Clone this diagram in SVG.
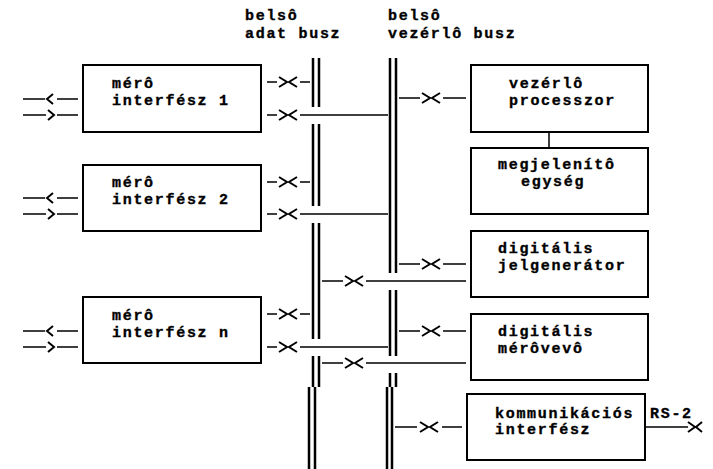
<svg xmlns="http://www.w3.org/2000/svg" xmlns:xlink="http://www.w3.org/1999/xlink" width="713" height="469" viewBox="0 0 713 469">
<style>
.t{font-family:"Liberation Mono","DejaVu Sans Mono",monospace;font-size:15px;font-weight:bold;letter-spacing:1.7px;fill:#000;stroke:#000;stroke-width:0.35}
.box{fill:#fff;stroke:#000;stroke-width:2}
.ln{fill:none;stroke:#000;stroke-width:1.5}
.bus{fill:none;stroke:#000;stroke-width:2.5}
.ch{fill:none;stroke:#000;stroke-width:2}
</style>
<defs>
<g id="xc"><path class="ch" d="M-9,-5 L-1,0 L-9,5 M9,-5 L1,0 L9,5"/></g>
<g id="lt"><path class="ch" d="M6,-5 L0,0 L6,5"/></g>
<g id="gt"><path class="ch" d="M0,-5 L6,0 L0,5"/></g>
</defs>
<rect width="713" height="469" fill="#fff"/>

<g id="label-adat-busz">
<text class="t" x="245" y="20">belsô</text>
<text class="t" x="245" y="38">adat busz</text>
</g>
<g id="label-vezerlo-busz">
<text class="t" x="388" y="20">belsô</text>
<text class="t" x="388" y="38">vezérlô busz</text>
</g>

<g id="connectors">
<!-- data bus -->
<path class="bus" d="M313,58V107 M319,58V107 M313,124V206 M319,124V206 M313,223V339 M319,223V339 M313,356V387 M319,356V387 M309,387V469 M315,387V469"/>
<!-- control bus -->
<path class="bus" d="M390,58V273 M396,58V273 M390,290V356 M396,290V356 M390,373V387 M396,373V387 M387,387V469 M392,387V469"/>

<!-- interface 1 -->
<path class="ln" d="M23,99H45 M57,99H78 M23,115H46 M57,115H78"/>
<use xlink:href="#lt" x="47" y="99"/><use xlink:href="#gt" x="48" y="115"/>
<path class="ln" d="M267,82H277 M300,82H310 M267,115H277 M300,115H388"/>
<use xlink:href="#xc" x="288" y="82"/><use xlink:href="#xc" x="288" y="115"/>

<!-- interface 2 -->
<path class="ln" d="M23,198H45 M57,198H78 M23,214H46 M57,214H78"/>
<use xlink:href="#lt" x="47" y="198"/><use xlink:href="#gt" x="48" y="214"/>
<path class="ln" d="M267,182H277 M300,182H310 M267,214H277 M300,214H388"/>
<use xlink:href="#xc" x="288" y="182"/><use xlink:href="#xc" x="288" y="214"/>

<!-- interface n -->
<path class="ln" d="M23,331H45 M57,331H78 M23,347H46 M57,347H78"/>
<use xlink:href="#lt" x="47" y="331"/><use xlink:href="#gt" x="48" y="347"/>
<path class="ln" d="M267,314H277 M300,314H310 M267,347H277 M300,347H388"/>
<use xlink:href="#xc" x="288" y="314"/><use xlink:href="#xc" x="288" y="347"/>

<!-- control bus to right boxes -->
<path class="ln" d="M399,98H420 M443,98H466 M399,264H420 M443,264H466 M399,331H420 M443,331H466"/>
<use xlink:href="#xc" x="431" y="98"/><use xlink:href="#xc" x="431" y="264"/><use xlink:href="#xc" x="431" y="331"/>

<!-- data bus to right boxes -->
<path class="ln" d="M322,281H343 M366,281H466 M322,363H343 M366,363H466"/>
<use xlink:href="#xc" x="354" y="281"/><use xlink:href="#xc" x="354" y="363"/>

<!-- kommunikacios -->
<path class="ln" d="M395,427H417 M442,427H462"/>
<use xlink:href="#xc" x="429" y="427"/>
<path class="ln" d="M645,427H688"/>
<path class="ch" d="M688,422 L695,427 L688,432 M702,422 L696,427 L702,432"/>

<!-- processor to display -->
<path class="ln" d="M549,132V148"/>
</g>

<g id="node-meroi-1">
<rect class="box" x="83" y="65" width="178" height="67"/>
<text class="t" x="112" y="88">mérô</text>
<text class="t" x="112" y="105">interfész 1</text>
</g>
<g id="node-meroi-2">
<rect class="box" x="83" y="165" width="178" height="66"/>
<text class="t" x="112" y="187">mérô</text>
<text class="t" x="112" y="204">interfész 2</text>
</g>
<g id="node-meroi-n">
<rect class="box" x="83" y="297" width="178" height="66"/>
<text class="t" x="112" y="320">mérô</text>
<text class="t" x="112" y="337">interfész n</text>
</g>
<g id="node-vezerlo">
<rect class="box" x="471" y="65" width="177" height="67"/>
<text class="t" x="509" y="88">vezérlô</text>
<text class="t" x="509" y="105">processzor</text>
</g>
<g id="node-megjelenito">
<rect class="box" x="471" y="148" width="177" height="66"/>
<text class="t" x="498" y="169">megjelenítô</text>
<text class="t" x="521" y="186">egység</text>
</g>
<g id="node-jelgenerator">
<rect class="box" x="471" y="231" width="177" height="66"/>
<text class="t" x="498" y="253">digitális</text>
<text class="t" x="498" y="270">jelgenerátor</text>
</g>
<g id="node-merovevo">
<rect class="box" x="471" y="314" width="177" height="66"/>
<text class="t" x="498" y="336">digitális</text>
<text class="t" x="498" y="353">mérôvevô</text>
</g>
<g id="node-kommunikacios">
<rect class="box" x="467" y="394" width="178" height="66"/>
<text class="t" x="495" y="418">kommunikációs</text>
<text class="t" x="495" y="434">interfész</text>
</g>
<g id="label-rs">
<text class="t" x="650" y="418">RS-2</text>
</g>
</svg>
